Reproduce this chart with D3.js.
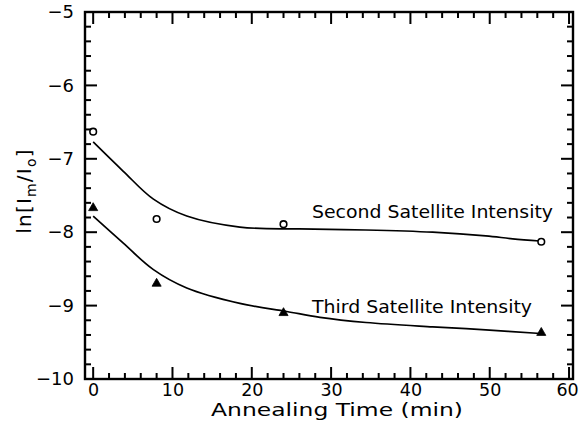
<!DOCTYPE html>
<html>
<head>
<meta charset="utf-8">
<script src="https://cdn.jsdelivr.net/npm/d3@7"></script>
<style>
  html, body { margin: 0; padding: 0; background: #fff; }
  svg { display: block; }
  text { font-family: "DejaVu Sans", sans-serif; fill: #000; }
</style>
</head>
<body>
<svg id="chart" width="579" height="433"></svg>
<script>
// ---- data ----
const xTickValues = [0, 10, 20, 30, 40, 50, 60];
const yTickValues = [-10, -9, -8, -7, -6, -5];

const timePoints = [0, 8, 24, 56.5];
const secondValues = [-6.63, -7.82, -7.89, -8.13];
const thirdValues = [-7.67, -8.70, -9.10, -9.37];

const secondFitX = [0, 3.8, 7.6, 11.8, 18.5, 26, 34.4, 42.8, 49.5, 52.9, 56.3];
const secondFitY = [-6.77, -7.17, -7.55, -7.78, -7.93, -7.956, -7.97, -8.0, -8.05, -8.09, -8.12];
const thirdFitX = [0, 3.8, 7.6, 11.8, 18.5, 24.4, 28.6, 34.4, 42.8, 49.5, 56.4];
const thirdFitY = [-7.78, -8.15, -8.51, -8.76, -8.97, -9.08, -9.16, -9.23, -9.29, -9.33, -9.38];

const secondLabel = "Second Satellite Intensity";
const thirdLabel = "Third Satellite Intensity";
const xTitle = "Annealing Time (min)";

// ---- layout ----
const svg = d3.select("#chart");
const L = 85, R = 573, T = 12, B = 379;

const x = d3.scaleLinear().domain([-1.03, 60.5]).range([L, R]);
const y = d3.scaleLinear().domain([-10, -5]).range([B, T]);

const xMinor = d3.range(0, 60.01, 2).filter(v => v % 10 !== 0);
const yMinor = d3.range(-10, -4.99, 0.2).map(v => +v.toFixed(1)).filter(v => Math.abs(v - Math.round(v)) > 1e-6);

// frame
svg.append("rect").attr("x", L).attr("y", T).attr("width", R - L).attr("height", B - T)
  .attr("fill", "none").attr("stroke", "#000").attr("stroke-width", 2.4);

// ---- inward ticks on all four sides ----
const tw = 2;
const tickColor = "#000";
const xTickData = xTickValues.map(v => ({ v, len: 12 })).concat(xMinor.map(v => ({ v, len: 6 })));
const yTickData = yTickValues.map(v => ({ v, len: 12 })).concat(yMinor.map(v => ({ v, len: 6 })));
const ticks = svg.append("g").attr("class", "ticks");
ticks.selectAll("rect.xb").data(xTickData).join("rect").attr("class", "xb")
  .attr("x", d => x(d.v) - tw / 2).attr("y", d => B - d.len).attr("width", tw).attr("height", d => d.len)
  .attr("fill", tickColor);
ticks.selectAll("rect.xt").data(xTickData).join("rect").attr("class", "xt")
  .attr("x", d => x(d.v) - tw / 2).attr("y", T).attr("width", tw).attr("height", d => d.len)
  .attr("fill", tickColor);
ticks.selectAll("rect.yl").data(yTickData).join("rect").attr("class", "yl")
  .attr("x", L).attr("y", d => y(d.v) - tw / 2).attr("width", d => d.len).attr("height", tw)
  .attr("fill", tickColor);
ticks.selectAll("rect.yr").data(yTickData).join("rect").attr("class", "yr")
  .attr("x", d => R - d.len).attr("y", d => y(d.v) - tw / 2).attr("width", d => d.len).attr("height", tw)
  .attr("fill", tickColor);

// ---- tick labels via d3 axes (domain and tick lines hidden) ----
svg.append("g").attr("transform", `translate(0,${B})`)
  .call(d3.axisBottom(x).tickValues(xTickValues).tickSize(0).tickFormat(d3.format("d")))
  .call(g => g.select(".domain").remove())
  .call(g => g.selectAll(".tick line").remove())
  .call(g => g.selectAll(".tick text").attr("font-size", 17.5).attr("font-family", "DejaVu Sans, sans-serif")
    .attr("fill", "#000").attr("y", 5).attr("dy", "0.71em"))
  .call(g => g.selectAll(".tick text").filter(d => d === 60).attr("dx", -2));

svg.append("g").attr("transform", `translate(${L},0)`)
  .call(d3.axisLeft(y).tickValues(yTickValues).tickSize(0).tickPadding(11)
    .tickFormat(d => d3.format("d")(d).replace("-", "\u2212")))
  .call(g => g.select(".domain").remove())
  .call(g => g.selectAll(".tick line").remove())
  .call(g => g.selectAll(".tick text").attr("font-size", 18).attr("font-family", "DejaVu Sans, sans-serif")
    .attr("fill", "#000"));

// fit curves
const line = d3.line().x(d => x(d[0])).y(d => y(d[1])).curve(d3.curveCatmullRom.alpha(0.5));
svg.append("path").datum(d3.zip(secondFitX, secondFitY))
  .attr("d", line).attr("fill", "none").attr("stroke", "#000").attr("stroke-width", 1.7);
svg.append("path").datum(d3.zip(thirdFitX, thirdFitY))
  .attr("d", line).attr("fill", "none").attr("stroke", "#000").attr("stroke-width", 1.7);

// markers
svg.append("g").selectAll("circle").data(d3.zip(timePoints, secondValues)).join("circle")
  .attr("cx", d => x(d[0])).attr("cy", d => y(d[1])).attr("r", 3.3)
  .attr("fill", "#fff").attr("stroke", "#000").attr("stroke-width", 1.6);
const tri = d3.symbol().type(d3.symbolTriangle).size(36);
svg.append("g").selectAll("path").data(d3.zip(timePoints, thirdValues)).join("path")
  .attr("d", tri).attr("transform", d => `translate(${x(d[0])},${y(d[1])})`)
  .attr("fill", "#000").attr("stroke", "#000").attr("stroke-width", 0.8);

// series labels
svg.append("text").attr("x", 312).attr("y", 218).attr("font-size", 18.5)
  .attr("textLength", 241).attr("lengthAdjust", "spacingAndGlyphs").text(secondLabel);
svg.append("text").attr("x", 312).attr("y", 313).attr("font-size", 18.5)
  .attr("textLength", 220).attr("lengthAdjust", "spacingAndGlyphs").text(thirdLabel);

// x title
svg.append("text").attr("x", 337).attr("y", 416).attr("text-anchor", "middle").attr("font-size", 18)
  .attr("textLength", 252).attr("lengthAdjust", "spacingAndGlyphs").text(xTitle);

// y title ln[Im/Io]
const yt = svg.append("text").attr("transform", "translate(31,191) rotate(-90)")
  .attr("text-anchor", "middle").attr("font-size", 20).attr("letter-spacing", 1.2);
yt.append("tspan").text("ln[I");
yt.append("tspan").attr("font-size", 14).attr("dy", 5).text("m");
yt.append("tspan").attr("dy", -5).text("/I");
yt.append("tspan").attr("font-size", 14).attr("dy", 5).text("o");
yt.append("tspan").attr("dy", -5).text("]");
</script>
</body>
</html>
